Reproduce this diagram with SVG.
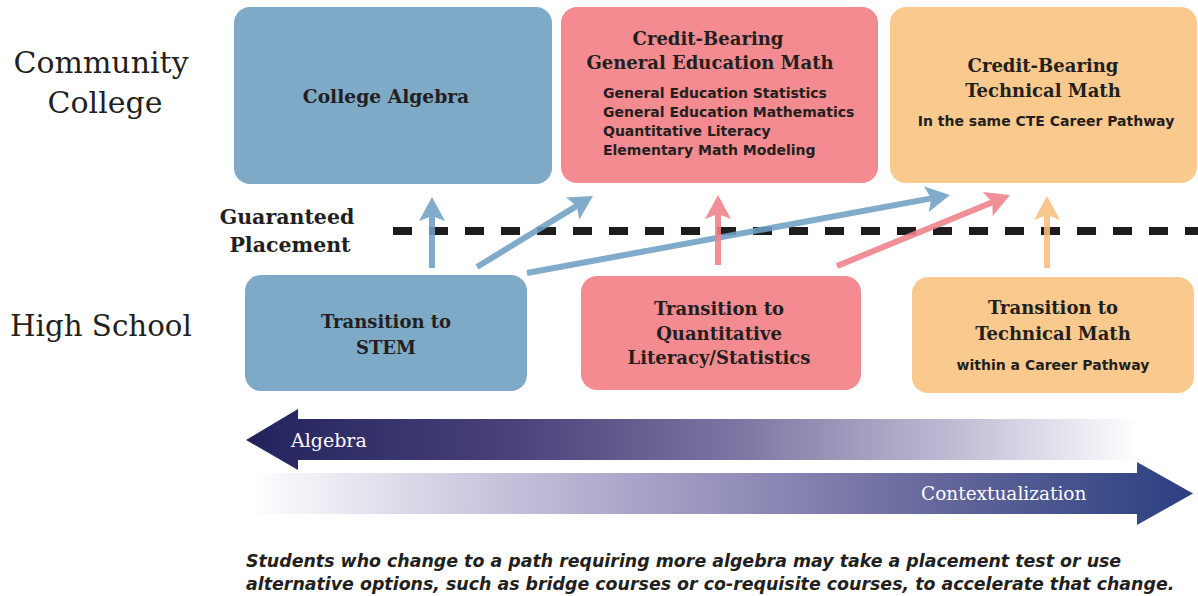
<svg xmlns="http://www.w3.org/2000/svg" width="1198" height="596" viewBox="0 0 1198 596">
<style>
  .lbl { font-family: "DejaVu Serif", "Liberation Serif", serif; fill: #231f20; }
  .ttl { font-family: "DejaVu Serif", "Liberation Serif", serif; font-weight: bold; font-size: 18px; fill: #231f20; text-anchor: middle; }
  .sub { font-family: "DejaVu Sans", "Liberation Sans", sans-serif; font-weight: bold; font-size: 14px; fill: #231f20; }
  .blue { fill: #7eaac8; }
  .pink { fill: #f48b90; }
  .orng { fill: #f9c98d; }
  .conn { fill: none; stroke-width: 6; opacity: 0.88; }
  .bar { font-family: "DejaVu Serif", "Liberation Serif", serif; font-size: 18.5px; fill: #ffffff; }
  .note { font-family: "DejaVu Sans", "Liberation Sans", sans-serif; font-weight: bold; font-style: italic; font-size: 17.4px; fill: #231f20; }
</style>
<defs>
  <marker id="hBlue" markerUnits="userSpaceOnUse" viewBox="0 0 24 26" markerWidth="24" markerHeight="26" refX="5" refY="13" orient="auto">
    <path d="M0,0 L24,13 L0,26 L5,13 Z" fill="#6fa0c4"/>
  </marker>
  <marker id="hPink" markerUnits="userSpaceOnUse" viewBox="0 0 24 26" markerWidth="24" markerHeight="26" refX="5" refY="13" orient="auto">
    <path d="M0,0 L24,13 L0,26 L5,13 Z" fill="#f08089"/>
  </marker>
  <marker id="hOrng" markerUnits="userSpaceOnUse" viewBox="0 0 24 26" markerWidth="24" markerHeight="26" refX="5" refY="13" orient="auto">
    <path d="M0,0 L24,13 L0,26 L5,13 Z" fill="#f6c07f"/>
  </marker>
  <linearGradient id="gAlg" gradientUnits="userSpaceOnUse" x1="246" y1="0" x2="1140" y2="0">
    <stop offset="0" stop-color="#22235e"/>
    <stop offset="0.3" stop-color="#4a4279"/>
    <stop offset="0.55" stop-color="#7d75a2"/>
    <stop offset="0.8" stop-color="#c2bed6"/>
    <stop offset="1" stop-color="#ffffff"/>
  </linearGradient>
  <linearGradient id="gCtx" gradientUnits="userSpaceOnUse" x1="248" y1="0" x2="1193" y2="0">
    <stop offset="0" stop-color="#ffffff"/>
    <stop offset="0.2" stop-color="#d3d2e4"/>
    <stop offset="0.45" stop-color="#a09cc3"/>
    <stop offset="0.7" stop-color="#6c6c9f"/>
    <stop offset="0.9" stop-color="#3f4e8a"/>
    <stop offset="1" stop-color="#2c3f80"/>
  </linearGradient>
</defs>
<rect width="1198" height="596" fill="#ffffff"/>

<g id="label-community-college">
  <text class="lbl" font-size="30" x="101" y="73" text-anchor="middle">Community</text>
  <text class="lbl" font-size="30" x="105" y="113" text-anchor="middle">College</text>
</g>
<g id="label-high-school">
  <text class="lbl" font-size="29.3" x="10" y="336">High School</text>
</g>
<g id="label-guaranteed">
  <text class="ttl" x="287" y="224" style="font-size:20.5px">Guaranteed</text>
  <text class="ttl" x="290" y="252" style="font-size:20.5px">Placement</text>
</g>

<g id="guaranteed-line">
  <line x1="393" y1="231" x2="1198" y2="231" stroke="#1e1c1d" stroke-width="8" stroke-dasharray="19 17"/>
</g>

<g id="node-college-algebra">
  <rect class="blue" x="234" y="7" width="318" height="177" rx="16"/>
  <text class="ttl" x="386" y="103" style="font-size:18.7px">College Algebra</text>
</g>
<g id="node-gen-ed">
  <rect class="pink" x="561" y="7" width="317" height="176" rx="16"/>
  <text class="ttl" x="708" y="45">Credit-Bearing</text>
  <text class="ttl" x="710" y="69">General Education Math</text>
  <text class="sub" x="603" y="98">General Education Statistics</text>
  <text class="sub" x="603" y="117">General Education Mathematics</text>
  <text class="sub" x="603" y="136">Quantitative Literacy</text>
  <text class="sub" x="603" y="155">Elementary Math Modeling</text>
</g>
<g id="node-tech-math">
  <rect class="orng" x="890" y="7" width="307" height="176" rx="16"/>
  <text class="ttl" x="1043" y="72">Credit-Bearing</text>
  <text class="ttl" x="1043" y="97">Technical Math</text>
  <text class="sub" x="1046" y="126" text-anchor="middle">In the same CTE Career Pathway</text>
</g>
<g id="node-stem">
  <rect class="blue" x="245" y="275" width="282" height="116" rx="16"/>
  <text class="ttl" x="386" y="328">Transition to</text>
  <text class="ttl" x="386" y="354">STEM</text>
</g>
<g id="node-ql">
  <rect class="pink" x="581" y="276" width="280" height="114" rx="16"/>
  <text class="ttl" x="719" y="315">Transition to</text>
  <text class="ttl" x="719" y="340">Quantitative</text>
  <text class="ttl" x="719" y="364">Literacy/Statistics</text>
</g>
<g id="node-tech-transition">
  <rect class="orng" x="912" y="277" width="282" height="116" rx="16"/>
  <text class="ttl" x="1053" y="314">Transition to</text>
  <text class="ttl" x="1053" y="340">Technical Math</text>
  <text class="sub" x="1053" y="370" text-anchor="middle">within a Career Pathway</text>
</g>

<g id="connectors">
  <path class="conn" stroke="#6fa0c4" marker-end="url(#hBlue)" d="M432,268 L432,216"/>
  <path class="conn" stroke="#6fa0c4" marker-end="url(#hBlue)" d="M477,267 L576.8,205.9"/>
  <path class="conn" stroke="#6fa0c4" marker-end="url(#hBlue)" d="M527,273 L931.3,198.4"/>
  <path class="conn" stroke="#f08089" marker-end="url(#hPink)" d="M718,265 L718,214"/>
  <path class="conn" stroke="#f08089" marker-end="url(#hPink)" d="M837,266 L992.4,202.2"/>
  <path class="conn" stroke="#f6c07f" marker-end="url(#hOrng)" d="M1047,268 L1047,215"/>
</g>

<g id="arrow-algebra">
  <polygon fill="url(#gAlg)" points="246,440 298,409 298,419 1140,419 1140,460 298,460 298,470"/>
  <text class="bar" x="291" y="447" style="font-size:19px">Algebra</text>
</g>
<g id="arrow-contextualization">
  <polygon fill="url(#gCtx)" points="248,473 1137,473 1137,462 1193,493.5 1137,525 1137,514 248,514"/>
  <text class="bar" x="921" y="500">Contextualization</text>
</g>

<g id="note">
  <text class="note" x="246" y="567">Students who change to a path requiring more algebra may take a placement test or use</text>
  <text class="note" x="246" y="590">alternative options, such as bridge courses or co-requisite courses, to accelerate that change.</text>
</g>
</svg>
